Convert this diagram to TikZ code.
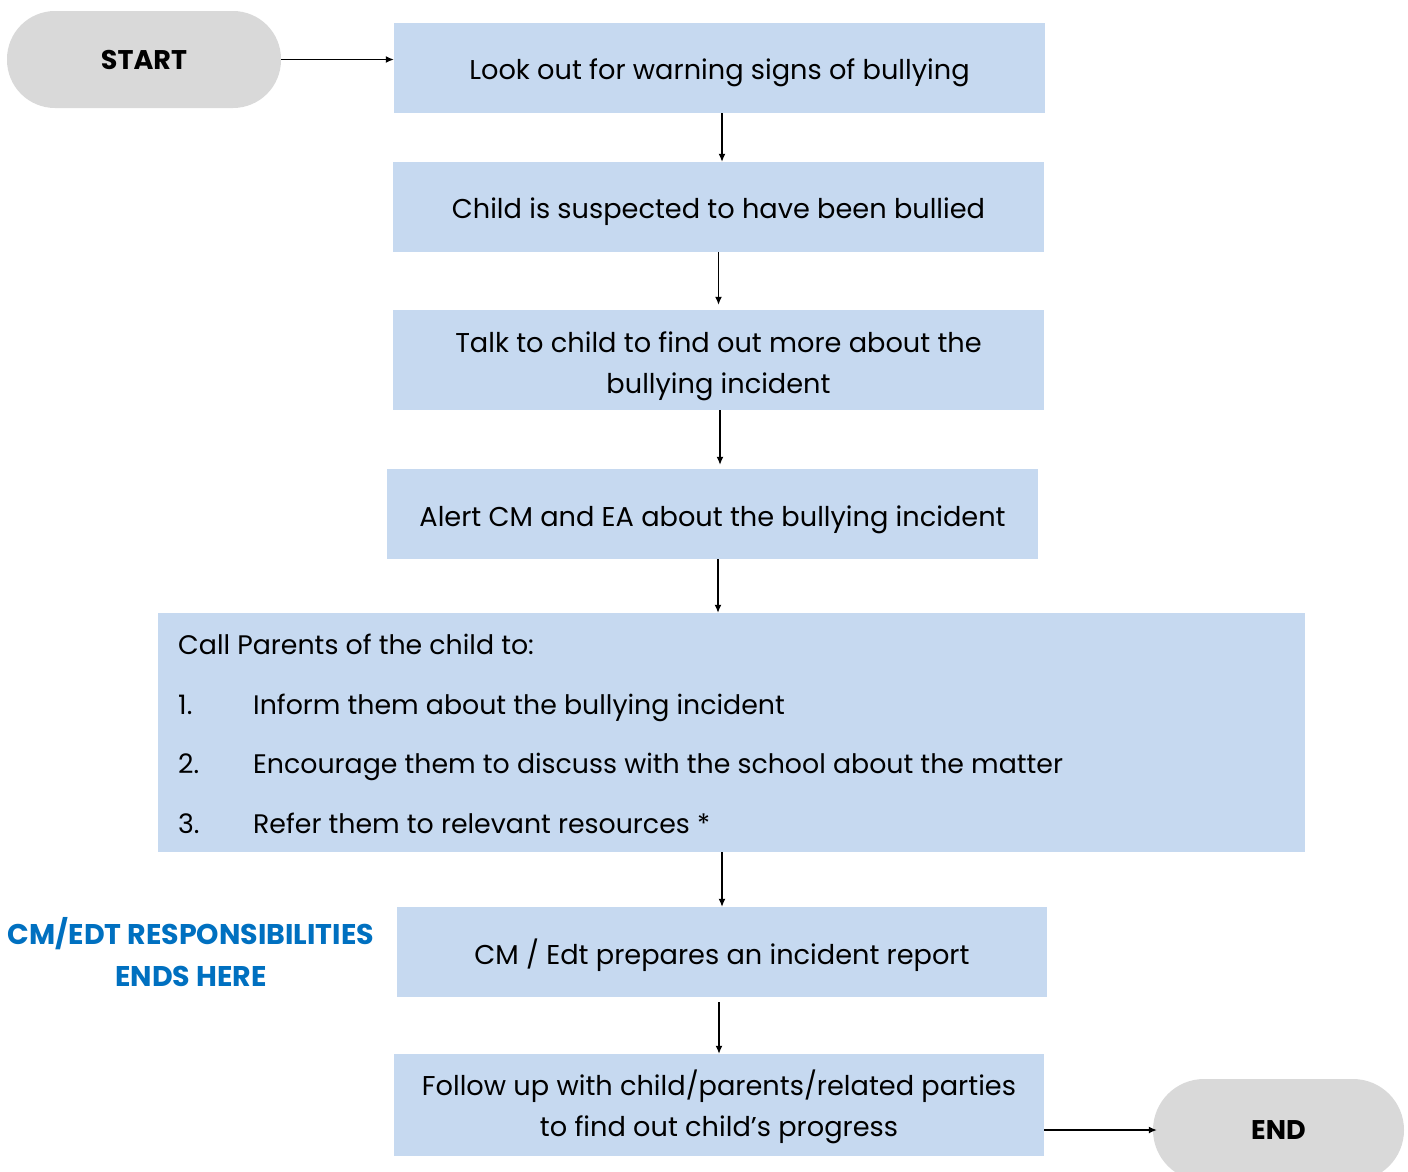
\documentclass[tikz,border=0pt]{standalone}
\usepackage{fontspec}
\setmainfont{Poppins}
\usetikzlibrary{arrows.meta,calc}
\definecolor{boxblue}{RGB}{198,217,240}
\definecolor{termgray}{RGB}{217,217,217}
\definecolor{noteblue}{RGB}{0,112,192}
\tikzset{
  stepbox/.style={fill=boxblue, inner sep=0pt},
  steptext/.style={inner sep=0pt, align=center,
    font=\fontsize{27.2}{41}\selectfont},
  terminal/.style={fill=termgray, inner sep=0pt, rounded corners=#1,
    font=\fontsize{27}{30}\selectfont\bfseries},
  listtext/.style={anchor=base west, inner sep=0pt,
    font=\fontsize{26.8}{30}\selectfont},
  note/.style={text=noteblue, align=center, inner sep=0pt,
    font=\fontsize{28.5}{42}\selectfont\bfseries},
  arr/.style={-{Latex[length=8pt,width=7pt]}, line width=1.3pt}
}
\begin{document}
\begin{tikzpicture}[x=1pt,y=-1pt]
  \useasboundingbox (0,0) rectangle (1408,1171);

  % terminals
  \node[terminal=48pt, minimum width=274, minimum height=97] (start) at (144,59.5) {START};
  \node[terminal=51pt, minimum width=251, minimum height=102] (end) at (1278.5,1130) {END};

  % process step boxes
  \node[stepbox, minimum width=651, minimum height=90]   (b1) at (719.5,68) {};
  \node[stepbox, minimum width=651, minimum height=90]   (b2) at (718.5,207) {};
  \node[stepbox, minimum width=651, minimum height=100]  (b3) at (718.5,360) {};
  \node[stepbox, minimum width=651, minimum height=90]   (b4) at (712.5,514) {};
  \node[stepbox, minimum width=1147, minimum height=239] (b5) at (731.5,732.5) {};
  \node[stepbox, minimum width=650, minimum height=90]   (b6) at (722,952) {};
  \node[stepbox, minimum width=650, minimum height=102]  (b7) at (719,1105) {};

  % step texts
  \node[steptext] (b1t) at ([yshift=-5pt]b1.center) {Look out for warning signs of bullying};
  \node[steptext] (b2t) at ([yshift=-5pt]b2.center) {Child is suspected to have been bullied};
  \node[steptext] (b3t) at ([yshift=-6pt]b3.center) {Talk to child to find out more about the\\bullying incident};
  \node[steptext] (b4t) at ([yshift=-6pt]b4.center) {Alert CM and EA about the bullying incident};
  \node[steptext] (b6t) at ([yshift=-3pt]b6.center) {CM / Edt prepares an incident report};
  \node[steptext] (b7t) at ([yshift=-2pt]b7.center) {Follow up with child/parents/related parties\\to find out child’s progress};

  % list inside the parents box
  \node[listtext] (l0) at (178,654) {Call Parents of the child to:};
  \node[listtext] (n1) at (178,714) {1.};
  \node[listtext] (t1) at (253,714) {Inform them about the bullying incident};
  \node[listtext] (n2) at (178,773) {2.};
  \node[listtext] (t2) at (253,773) {Encourage them to discuss with the school about the matter};
  \node[listtext] (n3) at (178,833) {3.};
  \node[listtext] (t3) at (253,833) {Refer them to relevant resources *};

  % side note
  \node[note] (resp) at (191,952) {CM/EDT RESPONSIBILITIES\\ENDS HERE};

  % connectors
  \draw[arr] (start.east) -- (start.east -| b1.west);
  \draw[arr] ([xshift=2.5pt]b1.south) -- ([xshift=2.5pt]b1.south |- b2.north);
  \draw[arr] (b2.south) -- ([yshift=5pt]b2.south |- b3.north);
  \draw[arr] ([xshift=1.5pt]b3.south) -- ([xshift=1.5pt,yshift=4pt]b3.south |- b4.north);
  \draw[arr] ([xshift=5.5pt]b4.south) -- ([xshift=5.5pt]b4.south |- b5.north);
  \draw[arr] (b6.north |- b5.south) -- (b6.north);
  \draw[arr] ([yshift=-5pt]b7.north |- b6.south) -- (b7.north);
  \draw[arr] (b7.east |- end.west) -- ([xshift=4pt]end.west);
\end{tikzpicture}
\end{document}
